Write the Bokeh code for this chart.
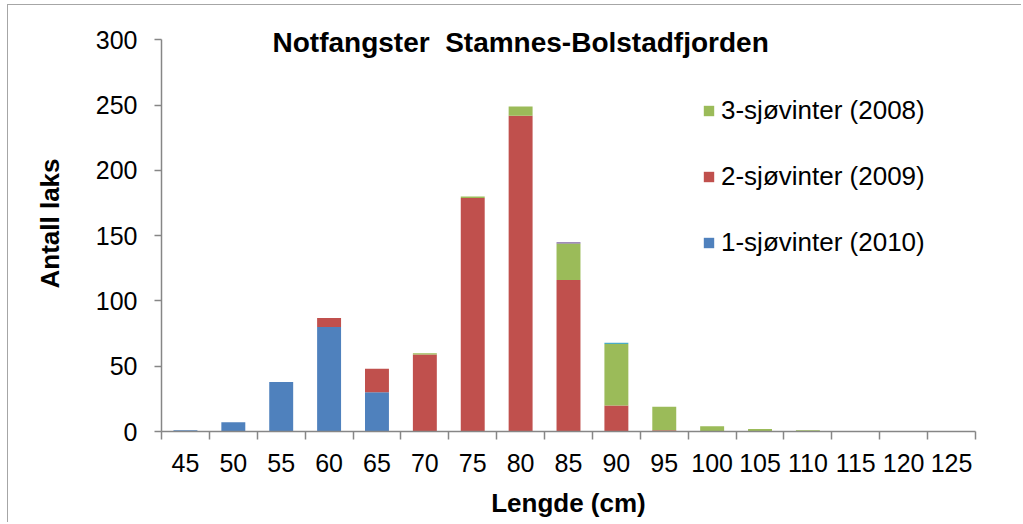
from bokeh.plotting import figure
from bokeh.models import (Range1d, FixedTicker, Legend, LegendItem, Label,
                          ColumnDataSource)
from bokeh.embed import file_html
from bokeh.resources import INLINE

# ---- data ----
lengths = ["45", "50", "55", "60", "65", "70", "75", "80", "85", "90",
           "95", "100", "105", "110", "115", "120", "125"]
sw1_2010 = [1, 7, 38, 80, 30, 0, 0, 0, 0, 0, 0, 0, 0, 0, 0, 0, 0]
sw2_2009 = [0, 0, 0, 7, 18, 59, 179, 242, 116, 20, 1, 0, 0, 0, 0, 0, 0]
sw3_2008 = [0, 0, 0, 0, 0, 1, 1, 7, 28, 47, 18, 4, 2, 1, 0, 0, 0]
other_a = [0, 0, 0, 0, 0, 0, 0, 0, 1, 0, 0, 0, 0, 0, 0, 0, 0]
other_b = [0, 0, 0, 0, 0, 0, 0, 0, 0, 1, 0, 0, 0, 0, 0, 0, 0]
y_ticks = [0, 50, 100, 150, 200, 250, 300]

names = ["sw1", "sw2", "sw3", "oa", "ob"]
colors = ["#4F81BD", "#C0504D", "#9BBB59", "#8064A2", "#4BACC6"]
labels = ["1-sjøvinter (2010)", "2-sjøvinter (2009)", "3-sjøvinter (2008)"]

xs = list(range(len(lengths)))
src = ColumnDataSource(dict(x=xs, sw1=sw1_2010, sw2=sw2_2009, sw3=sw3_2008,
                            oa=other_a, ob=other_b))

FONT = "Liberation Sans"
AX = "#868686"

p = figure(width=1014, height=518, output_backend="svg", toolbar_location=None,
           x_range=Range1d(-0.5, len(lengths) - 0.5), y_range=Range1d(0, 318.77),
           min_border_left=153, min_border_right=47, min_border_top=10,
           min_border_bottom=92)
p.styles = {"margin-top": "4px", "margin-left": "7px",
            "border-top": "1px solid #a6a6a6", "border-left": "1px solid #a6a6a6"}
p.outline_line_color = None
p.xgrid.visible = False
p.ygrid.visible = False
p.background_fill_color = "white"
p.border_fill_color = "white"

rs = p.vbar_stack(names, x="x", width=0.5, color=colors, source=src,
                  line_color=None)

# x axis: labels at centres, tick marks between categories
xa = p.xaxis[0]
xa.ticker = FixedTicker(ticks=xs, minor_ticks=[i - 0.5 for i in range(len(lengths) + 1)])
xa.major_label_overrides = {i: l for i, l in enumerate(lengths)}
xa.major_tick_out = 0
xa.major_tick_in = 0
xa.minor_tick_out = 8
xa.minor_tick_in = 0
xa.minor_tick_line_color = AX
xa.axis_line_color = AX
xa.axis_line_width = 1.5
xa.minor_tick_line_width = 1.5
xa.major_label_text_font = FONT
xa.major_label_text_font_size = "25px"
xa.major_label_text_color = "black"
xa.major_label_standoff = 14
xa.axis_label = "Lengde (cm)"
xa.axis_label_text_font = FONT
xa.axis_label_text_font_style = "bold"
xa.axis_label_text_font_size = "26px"
xa.axis_label_text_color = "black"
xa.axis_label_standoff = 13

ya = p.yaxis[0]
ya.ticker = FixedTicker(ticks=y_ticks, minor_ticks=[])
ya.bounds = (0, 300)
ya.major_tick_out = 7
ya.major_tick_in = 0
ya.major_tick_line_color = AX
ya.major_tick_line_width = 1.5
ya.axis_line_color = AX
ya.axis_line_width = 1.5
ya.major_label_text_font = FONT
ya.major_label_text_font_size = "25px"
ya.major_label_text_color = "black"
ya.major_label_standoff = 17
ya.axis_label = "Antall laks"
ya.axis_label_text_font = FONT
ya.axis_label_text_font_style = "bold"
ya.axis_label_text_font_size = "26px"
ya.axis_label_text_color = "black"
ya.axis_label_standoff = 28

legend = Legend(items=[LegendItem(label=labels[2], renderers=[rs[2]]),
                       LegendItem(label=labels[1], renderers=[rs[1]]),
                       LegendItem(label=labels[0], renderers=[rs[0]])],
                location=(541, 173), orientation="vertical")
legend.border_line_color = None
legend.background_fill_alpha = 0
legend.padding = 0
legend.margin = 0
legend.spacing = 35
legend.label_height = 28
legend.glyph_width = 13
legend.glyph_height = 13
legend.label_standoff = 6
legend.label_text_font = FONT
legend.label_text_font_size = "26px"
legend.label_text_color = "black"
p.add_layout(legend)

title = Label(x=7, y=298.3, text="Notfangster\u00a0 Stamnes-Bolstadfjorden",
              text_font=FONT, text_font_style="bold", text_font_size="28px",
              text_align="center", text_baseline="middle", text_color="black")
p.add_layout(title)

open("out.html", "w").write(file_html(p, INLINE))
